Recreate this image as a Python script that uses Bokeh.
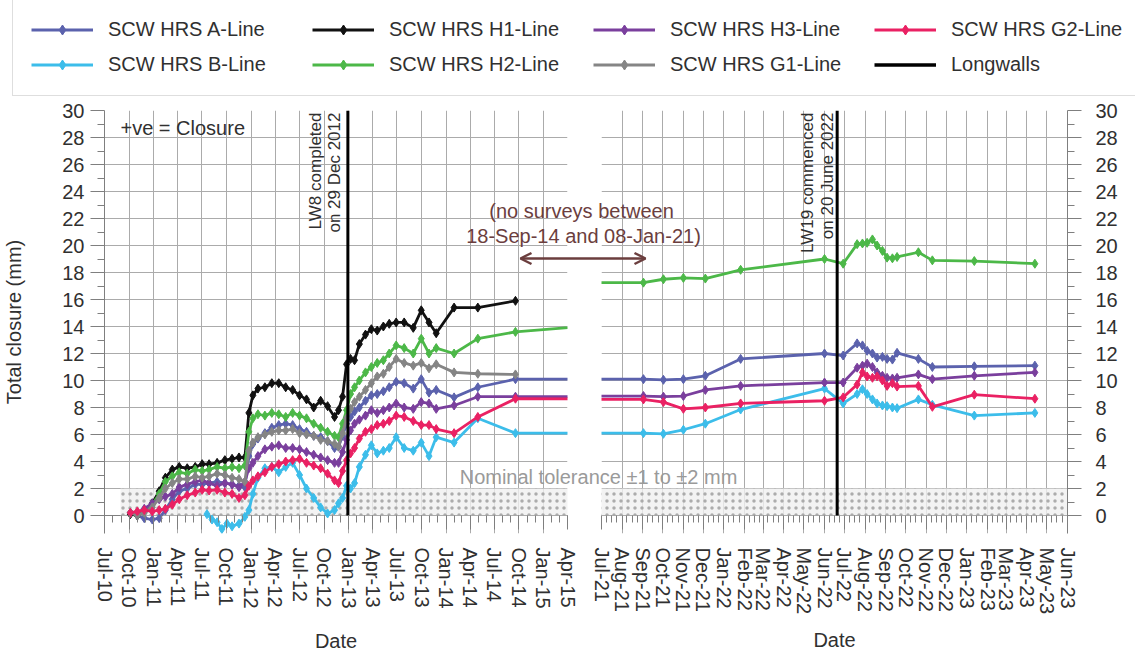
import pandas as pd
from bokeh.plotting import figure
from bokeh.layouts import row
from bokeh.models import (Range1d, FixedTicker, DatetimeTickFormatter, Legend, LegendItem,
                          Label, Arrow, OpenHead, Span, ColumnDataSource)
from bokeh.embed import file_html
from bokeh.resources import INLINE

FONT = "Liberation Sans"

# ---------------- data ----------------
left_dates = [
    "2010-10-06", "2010-11-01", "2010-11-27", "2010-12-27", "2011-01-22", "2011-02-14", "2011-03-12",
    "2011-04-07", "2011-05-07", "2011-06-06", "2011-07-02", "2011-07-28", "2011-08-27", "2011-09-25",
    "2011-10-22", "2011-11-17", "2011-12-09", "2011-12-24", "2012-01-08", "2012-01-27", "2012-02-22",
    "2012-03-19", "2012-04-14", "2012-05-10", "2012-06-05", "2012-07-01", "2012-07-27", "2012-08-23",
    "2012-09-18", "2012-10-14", "2012-11-09", "2012-11-24", "2012-12-09", "2012-12-24", "2013-01-08",
    "2013-01-23", "2013-02-10", "2013-03-05", "2013-03-27", "2013-04-18", "2013-05-11", "2013-06-02",
    "2013-06-28", "2013-07-28", "2013-08-31", "2013-09-30", "2013-10-29", "2013-11-25", "2014-01-31",
    "2014-04-30", "2014-09-18"]
b_early_dates = ["2011-07-20", "2011-08-08", "2011-08-27", "2011-09-14", "2011-10-03"]
right_dates = [
    "2021-01-08", "2021-09-02", "2021-10-02", "2021-11-01", "2021-12-04", "2022-01-26", "2022-06-01",
    "2022-06-29", "2022-07-20", "2022-07-28", "2022-08-04", "2022-08-12", "2022-08-19", "2022-08-27",
    "2022-09-03", "2022-09-11", "2022-09-18", "2022-10-20", "2022-11-10", "2023-01-12", "2023-04-13"]

a_left = [0.2, 0.0, -0.2, -0.3, -0.2, 0.4, 1.2, 1.8, 2.0, 2.3, 2.3, 2.4, 2.5, 2.4, 2.3, 2.2, 2.1, 4.4,
          5.3, 5.7, 6.1, 6.5, 6.7, 6.8, 6.7, 6.4, 6.2, 5.9, 5.8, 5.5, 5.0, 5.1, 5.9, 6.8, 7.3, 7.7, 8.0,
          8.5, 8.9, 9.0, 9.2, 9.5, 9.9, 9.8, 9.4, 10.1, 9.1, 9.3, 8.75, 9.5, 10.1]
a_right = [10.1, 10.1, 10.05, 10.1, 10.35, 11.6, 12.0, 11.85, 12.75, 12.6, 12.2, 12.0, 11.7, 11.75,
           11.6, 11.55, 12.05, 11.6, 11.0, 11.05, 11.1]

b_left = [0.1, -0.3, -0.5, -1.0, -0.6, -0.8, -0.6, -0.1, 0.4, 1.6, 2.8, 3.5, 3.6, 3.2, 3.6, 3.9, 3.0,
          2.0, 1.3, 0.6, 0.15, 0.4, 0.9, 1.3, 2.2, 2.0, 2.4, 3.6, 4.5, 5.2, 4.6, 4.8, 5.0, 5.8, 5.0, 4.8,
          5.4, 4.4, 5.8, 5.4, 7.2, 6.1]
b_right = [6.1, 6.1, 6.05, 6.35, 6.8, 7.85, 9.4, 8.3, 9.0, 9.35, 9.0, 8.6, 8.3, 8.15, 8.1, 8.0, 7.95,
           8.6, 8.2, 7.4, 7.6]

h1_left = [0.1, 0.0, 0.3, 0.9, 1.8, 2.8, 3.4, 3.6, 3.5, 3.6, 3.8, 3.8, 3.9, 4.1, 4.2, 4.3, 4.3, 7.6,
           8.9, 9.4, 9.5, 9.8, 9.8, 9.5, 9.3, 8.9, 8.6, 8.0, 8.5, 8.1, 7.3, 7.8, 8.8, 11.2, 11.6, 11.5,
           12.7, 13.4, 13.8, 13.7, 14.0, 14.2, 14.3, 14.3, 13.9, 15.2, 14.3, 13.5, 15.4, 15.4, 15.9]

h2_left = [0.2, 0.1, 0.3, 0.8, 1.6, 2.5, 2.9, 3.2, 3.1, 3.4, 3.3, 3.4, 3.6, 3.5, 3.6, 3.5, 3.7, 6.2,
           7.2, 7.5, 7.4, 7.6, 7.5, 7.3, 7.6, 7.4, 7.2, 6.8, 6.5, 6.2, 5.9, 5.8, 6.8, 7.8, 9.0, 9.5,
           10.0, 10.6, 11.0, 11.3, 11.5, 12.0, 12.6, 12.4, 12.0, 13.1, 12.0, 12.4, 12.0, 13.1, 13.6]
h2_right = [17.25, 17.25, 17.5, 17.6, 17.55, 18.2, 19.0, 18.65, 20.1, 20.15, 20.2, 20.45, 20.0, 19.6,
            19.1, 19.05, 19.15, 19.5, 18.9, 18.85, 18.65]

h3_left = [0.2, 0.2, 0.5, 0.9, 1.2, 1.4, 1.6, 2.1, 2.3, 2.5, 2.6, 2.4, 2.2, 2.4, 2.3, 2.1, 2.5, 3.5,
           3.9, 4.4, 4.9, 5.1, 5.2, 5.0, 5.0, 4.9, 4.7, 4.5, 4.3, 4.1, 3.9, 3.9, 4.7, 5.6, 6.3, 6.8,
           7.1, 7.4, 7.8, 7.6, 7.8, 8.0, 8.3, 8.0, 7.9, 8.4, 8.3, 7.9, 8.15, 8.8, 8.8]
h3_right = [8.8, 8.85, 8.8, 8.85, 9.3, 9.6, 9.85, 9.85, 10.95, 11.1, 11.25, 11.0, 10.6, 10.35, 10.2,
            10.15, 10.2, 10.45, 10.1, 10.35, 10.6]

g1_left = [0.2, 0.0, 0.2, 0.6, 1.3, 2.0, 2.4, 2.7, 2.7, 2.9, 2.8, 2.9, 3.1, 3.0, 2.8, 2.7, 2.5, 4.8,
           5.4, 5.8, 6.0, 6.2, 6.3, 6.3, 6.4, 6.1, 6.0, 5.9, 5.6, 5.5, 5.3, 5.1, 6.1, 7.2, 7.9, 8.4,
           8.8, 9.3, 9.8, 10.3, 10.5, 11.0, 11.6, 11.3, 11.1, 11.3, 10.9, 11.2, 10.6, 10.5, 10.45]

g2_left = [0.2, 0.3, 0.4, 0.3, 0.4, 0.5, 0.8, 1.2, 1.5, 1.7, 1.9, 1.85, 1.9, 1.7, 1.6, 1.3, 1.5, 2.2,
           2.6, 2.9, 3.2, 3.6, 3.8, 4.0, 4.1, 4.2, 3.9, 3.7, 3.5, 3.1, 2.6, 2.4, 3.3, 4.1, 4.6, 5.0,
           5.7, 6.2, 6.4, 6.7, 6.8, 7.0, 7.4, 7.3, 7.0, 6.7, 6.7, 6.4, 6.1, 7.3, 8.65]
g2_right = [8.6, 8.6, 8.4, 7.9, 8.0, 8.3, 8.5, 8.75, 9.7, 10.6, 10.3, 10.2, 10.3, 10.0, 9.6, 9.8, 9.55,
            9.6, 8.05, 8.95, 8.65]

lw_dates = ["2012-12-29", "2022-06-20"]
lw_bottom = [0, 0]
lw_top = [30, 30]

band_start, band_end = "2010-08-30", "2023-06-30"
band_low, band_high = 0, 2

series = [
    ("SCW HRS A-Line", "#5b62ad", left_dates + right_dates, a_left + a_right),
    ("SCW HRS B-Line", "#3cbdea", b_early_dates + left_dates[14:] + right_dates, b_left + b_right),
    ("SCW HRS H1-Line", "#111111", left_dates, h1_left),
    ("SCW HRS H2-Line", "#4cb848", left_dates + right_dates, h2_left + h2_right),
    ("SCW HRS H3-Line", "#7a3f9d", left_dates + right_dates, h3_left + h3_right),
    ("SCW HRS G1-Line", "#858585", left_dates, g1_left),
    ("SCW HRS G2-Line", "#ea2163", left_dates + right_dates, g2_left + g2_right),
]
LONGWALL_LABEL = "Longwalls"


def ms(d):
    return pd.Timestamp(d).value / 1e6


W, H = 1135, 656
TOP, BOTTOM = 110, 123
Y_MIN = 30 - 423 / 13.5
GRID = "#ababab"
AXC = "#7f7f7f"
TXT = "#303030"
BROWN = "#6b3e3e"
LW_W, MK = 2.8, 9


def make_fig(x0, x1, width, bl, br, yloc, majors, minors, date_standoff):
    p = figure(width=width, height=H, x_axis_type="datetime", y_axis_location=yloc,
               x_range=Range1d(ms(x0), ms(x1)), y_range=Range1d(Y_MIN, 30),
               output_backend="svg", toolbar_location=None,
               min_border_left=bl, min_border_right=br, min_border_top=TOP, min_border_bottom=BOTTOM)
    p.frame_align = False
    p.outline_line_color = None
    xt = FixedTicker(ticks=[ms(d) for d in majors], minor_ticks=[ms(d) for d in minors])
    ax = p.xaxis[0]
    ax.ticker = xt
    p.xgrid[0].ticker = xt
    ax.formatter = DatetimeTickFormatter(months="%b-%y", days="%b-%y", years="%b-%y")
    ax.major_label_orientation = "vertical"
    ax.major_label_text_font = FONT
    ax.major_label_text_font_size = "20px"
    ax.major_label_text_color = TXT
    ax.major_label_standoff = 18
    ax.axis_line_color = None
    ax.major_tick_line_color = AXC
    ax.minor_tick_line_color = AXC
    ax.major_tick_in, ax.major_tick_out = 18, -4
    ax.minor_tick_in, ax.minor_tick_out = 18, -11
    ax.axis_label = "Date"
    ax.axis_label_text_font = FONT
    ax.axis_label_text_font_size = "20px"
    ax.axis_label_text_font_style = "normal"
    ax.axis_label_text_color = TXT
    ax.axis_label_standoff = date_standoff

    yt = FixedTicker(ticks=list(range(0, 31, 2)), minor_ticks=list(range(1, 31, 2)))
    ay = p.yaxis[0]
    ay.ticker = yt
    p.ygrid[0].ticker = yt
    ay.major_label_text_font = FONT
    ay.major_label_text_font_size = "20px"
    ay.major_label_text_color = TXT
    ay.axis_line_color = AXC
    ay.major_tick_line_color = AXC
    ay.minor_tick_line_color = AXC
    ay.major_tick_in, ay.major_tick_out = 0, 14
    ay.minor_tick_in, ay.minor_tick_out = 0, 7

    for g in (p.xgrid[0], p.ygrid[0]):
        g.grid_line_color = GRID
        g.grid_line_width = 1
    p.add_layout(Span(location=0, dimension="width", line_color=AXC, line_width=1, level="underlay"))

    p.quad(left=[ms(band_start)], right=[ms(band_end)], bottom=[band_low], top=[band_high],
           fill_color="#f0f0f0", fill_alpha=0.8, line_color=None,
           hatch_pattern="dot", hatch_color="#a4a4a4", hatch_scale=7, hatch_weight=1.0, hatch_alpha=0.9)

    for name, color, dts, vals in series:
        src = ColumnDataSource(dict(x=pd.to_datetime(dts), y=vals))
        p.line("x", "y", source=src, line_color=color, line_width=LW_W)
        p.scatter("x", "y", source=src, marker="diamond", size=MK, fill_color=color, line_color=color)
    p.segment(x0=pd.to_datetime(lw_dates), y0=lw_bottom, x1=pd.to_datetime(lw_dates), y1=lw_top,
              line_color="black", line_width=3)
    return p


left_major = pd.date_range("2010-07-01", "2015-04-01", freq="QS")
left_minor = pd.date_range("2010-07-01", "2015-04-01", freq="MS")
right_major = pd.date_range("2021-07-01", "2023-06-01", freq="MS")
right_minor = [m + pd.Timedelta(days=k) for m in right_major for k in (7, 15, 23)]

# left panel: frame x 102..567 ; right panel: frame x 601..1067
L = make_fig("2010-07-01", "2015-04-01", W, 102, W - 567, "left", left_major, left_minor, 18)
R_LEFT = 575
R = make_fig("2021-07-01", "2023-06-01", W - R_LEFT, 601 - R_LEFT, W - 1067, "right",
             right_major, right_minor, 12)

L.border_fill_color = None
R.border_fill_color = "white"

ay = L.yaxis[0]
ay.axis_label = "Total closure (mm)"
ay.axis_label_text_font = FONT
ay.axis_label_text_font_size = "20px"
ay.axis_label_text_font_style = "normal"
ay.axis_label_text_color = TXT
ay.major_label_standoff = 6
ay.axis_label_standoff = 34
R.yaxis[0].major_label_standoff = 14


def lab(p, **kw):
    base = dict(text_font=FONT, text_color=TXT, text_font_size="20px")
    base.update(kw)
    p.add_layout(Label(**base))


lab(L, x=ms("2010-08-30"), y=28.7, text="+ve = Closure", text_baseline="middle")
lab(L, x=ms(lw_dates[0]), y=29.85, x_offset=-32, text="LW8 completed", angle=90, angle_units="deg",
    text_align="right", text_baseline="middle", text_font_size="17px")
lab(L, x=ms(lw_dates[0]), y=29.85, x_offset=-13, text="on 29 Dec 2012", angle=90, angle_units="deg",
    text_align="right", text_baseline="middle", text_font_size="17px")
lab(R, x=ms(lw_dates[1]), y=29.85, x_offset=-30, text="LW19 commenced", angle=90, angle_units="deg",
    text_align="right", text_baseline="middle", text_font_size="17px")
lab(R, x=ms(lw_dates[1]), y=29.85, x_offset=-10, text="on 20 June 2022", angle=90, angle_units="deg",
    text_align="right", text_baseline="middle", text_font_size="17px")

# overlay canvas (pixel coordinates) for legend and texts spanning both panels
T = figure(width=W, height=H, x_range=Range1d(0, W), y_range=Range1d(H, 0), title=None,
           x_axis_location=None, y_axis_location=None, output_backend="svg", toolbar_location=None,
           min_border_left=0, min_border_right=0, min_border_top=0, min_border_bottom=0)
T.frame_align = False
T.grid.visible = False
T.outline_line_color = None
T.border_fill_color = None
T.background_fill_color = None

NAN = float("nan")
items = []
for name, color, _, _ in series:
    r1 = T.line(x=[NAN], y=[NAN], line_color=color, line_width=LW_W)
    r2 = T.scatter(x=[NAN], y=[NAN], marker="diamond", size=MK, fill_color=color, line_color=color)
    items.append((name, [r1, r2]))
rl = T.line(x=[NAN], y=[NAN], line_color="black", line_width=3.5)
items.append((LONGWALL_LABEL, [rl]))

leg = Legend(items=[LegendItem(label=n, renderers=r) for n, r in items],
             orientation="vertical", nrows=2, location=(12, H - 96),
             padding=18, spacing=10, margin=0, label_height=25, glyph_height=25, glyph_width=62,
             label_standoff=15, label_width=194, label_text_font=FONT, label_text_font_size="20px",
             label_text_color=TXT, border_line_color="#bdbdbd", border_line_width=1,
             background_fill_color="white", background_fill_alpha=1)
T.add_layout(leg, "center")

lab(T, x=581, y=210, text="(no surveys between", text_align="center", text_baseline="middle",
    text_color=BROWN)
lab(T, x=583, y=235, text="18-Sep-14 and 08-Jan-21)", text_align="center", text_baseline="middle",
    text_color=BROWN)
lab(T, x=598, y=476, text="Nominal tolerance \u00b11 to \u00b12 mm", text_align="center",
    text_baseline="middle", text_color="#9a9a9a")
T.add_layout(Arrow(x_start=520, y_start=258, x_end=645, y_end=258,
                   line_color=BROWN, line_width=2.5,
                   start=OpenHead(size=11, line_color=BROWN, line_width=2.5),
                   end=OpenHead(size=11, line_color=BROWN, line_width=2.5)))

R.margin = (0, 0, 0, R_LEFT)
L.margin = (0, 0, 0, -W)
T.margin = (0, 0, 0, -W)
layout = row(R, L, T)

open("out.html", "w").write(file_html(layout, INLINE))
